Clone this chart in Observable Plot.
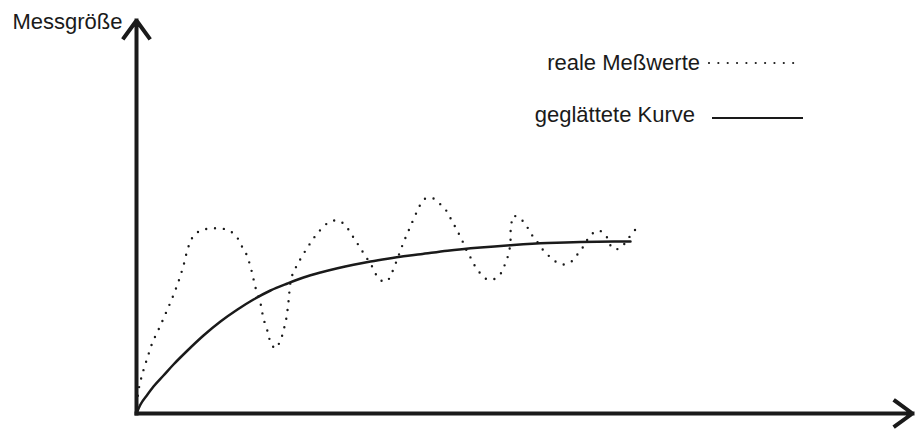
<!DOCTYPE html>
<html>
<head>
<meta charset="utf-8">
<script src="https://cdn.jsdelivr.net/npm/d3@7"></script>
<script src="https://cdn.jsdelivr.net/npm/@observablehq/plot@0.6"></script>
<style>
  html, body { margin: 0; padding: 0; background: #fff; overflow: hidden; }
  #wrap { position: relative; width: 915px; height: 445px; font-family: "Liberation Sans", Arial, sans-serif; color: #1a1a1a; }
  .lg { position: absolute; font-size: 22px; line-height: 22px; white-space: nowrap; text-align: right; }
  #legendSvg { position: absolute; left: 0; top: 0; pointer-events: none; }
</style>
</head>
<body>
<div id="wrap"></div>
<script>
// ---- data (arbitrary units) ----
const yLabel = "Messgröße";
const seriesNames = ["reale Meßwerte", "geglättete Kurve"];
const xDomain = [0, 776];
const yDomain = [0, 393];

// real measured values (time, value)
const measT = [0,2,6,11,16,23,30,36,42,47,51,54,58,65,73,82,90,97,102,106,110,115,119,124,127,132,134,139,143,146,148,150,152,155,162,171,180,192,200,207,217,226,235,243,250,255,261,267,273,280,284,289,297,303,309,313,317,321,325,328,332,336,340,345,351,359,365,368,371,373,374,374,375,376,383,388,393,397,402,407,413,419,427,435,440,445,449,454,461,468,472,476,483,489,494,499];
const measV = [0,23,40,56,71,86,102,116,132,148,164,172,179,183,185,185,184,180,174,166,159,143,126,110,95,79,71,65,71,79,87,96,112,136,151,166,179,191,193,190,176,162,148,134,132,140,155,171,185,201,209,215,215,210,204,197,190,182,175,167,160,152,145,139,134,135,141,148,156,164,172,181,189,197,196,190,183,176,170,163,157,152,149,152,158,164,171,178,183,180,173,165,165,171,178,184];

// smoothed curve (time, value)
const smoothT = [0,4,11,17,27,37,51,67,84,101,117,134,151,167,184,201,217,234,251,267,284,311,344,377,411,444,494];
const smoothV = [0,9,19,27,38,49,63,78,92,104,114,123,130,136,141,145.3,148.8,152,154.8,157.2,159.3,162.8,166,168.5,170.5,171.6,172];

const measured = measT.map((t, i) => ({t, v: measV[i]}));
const smooth = smoothT.map((t, i) => ({t, v: smoothV[i]}));
const axes = [
  {x1: xDomain[0], y1: yDomain[0], x2: xDomain[1], y2: yDomain[0]},
  {x1: xDomain[0], y1: yDomain[0], x2: xDomain[0], y2: yDomain[1]}
];

const ink = "#1a1a1a";

const chart = Plot.plot({
  width: 915,
  height: 445,
  marginLeft: 136,
  marginRight: 3,
  marginTop: 20,
  marginBottom: 32,
  x: {domain: xDomain, axis: null},
  y: {domain: yDomain, axis: null},
  style: {background: "#fff", fontFamily: "'Liberation Sans', Arial, sans-serif", fontSize: "22px", overflow: "visible"},
  marks: [
    Plot.line(measured, {x: "t", y: "v", curve: "catmull-rom", stroke: ink, strokeWidth: 2.4, strokeDasharray: "0 8.8", strokeLinecap: "round"}),
    Plot.line(smooth, {x: "t", y: "v", curve: "monotone-x", stroke: ink, strokeWidth: 2.5}),
    Plot.arrow(axes, {x1: "x1", y1: "y1", x2: "x2", y2: "y2", stroke: ink, strokeWidth: 4, headLength: 8, headAngle: 72, strokeLinejoin: "miter", strokeLinecap: "square"}),
    Plot.text([yLabel], {text: d => d, frameAnchor: "top-left", textAnchor: "end", lineAnchor: "bottom", dx: -14, dy: 8, fill: ink, fontSize: 22})
  ]
});

const wrap = document.getElementById("wrap");
wrap.appendChild(chart);

// legend overlay
const l1 = document.createElement("div");
l1.className = "lg"; l1.textContent = seriesNames[0];
l1.style.right = (915 - 700) + "px"; l1.style.top = "51.5px";
const l2 = document.createElement("div");
l2.className = "lg"; l2.textContent = seriesNames[1];
l2.style.right = (915 - 695) + "px"; l2.style.top = "103.5px";
wrap.appendChild(l1); wrap.appendChild(l2);

const ns = "http://www.w3.org/2000/svg";
const lsvg = document.createElementNS(ns, "svg");
lsvg.setAttribute("id", "legendSvg");
lsvg.setAttribute("width", 915); lsvg.setAttribute("height", 445);
const dot = document.createElementNS(ns, "line");
dot.setAttribute("x1", 709); dot.setAttribute("x2", 802.5); dot.setAttribute("y1", 63); dot.setAttribute("y2", 63);
dot.setAttribute("stroke", ink); dot.setAttribute("stroke-width", 2.2);
dot.setAttribute("stroke-dasharray", "0 9.35"); dot.setAttribute("stroke-linecap", "round");
const sol = document.createElementNS(ns, "line");
sol.setAttribute("x1", 712); sol.setAttribute("x2", 803); sol.setAttribute("y1", 118); sol.setAttribute("y2", 118);
sol.setAttribute("stroke", ink); sol.setAttribute("stroke-width", 2.2);
lsvg.appendChild(dot); lsvg.appendChild(sol);
wrap.appendChild(lsvg);
</script>
</body>
</html>
